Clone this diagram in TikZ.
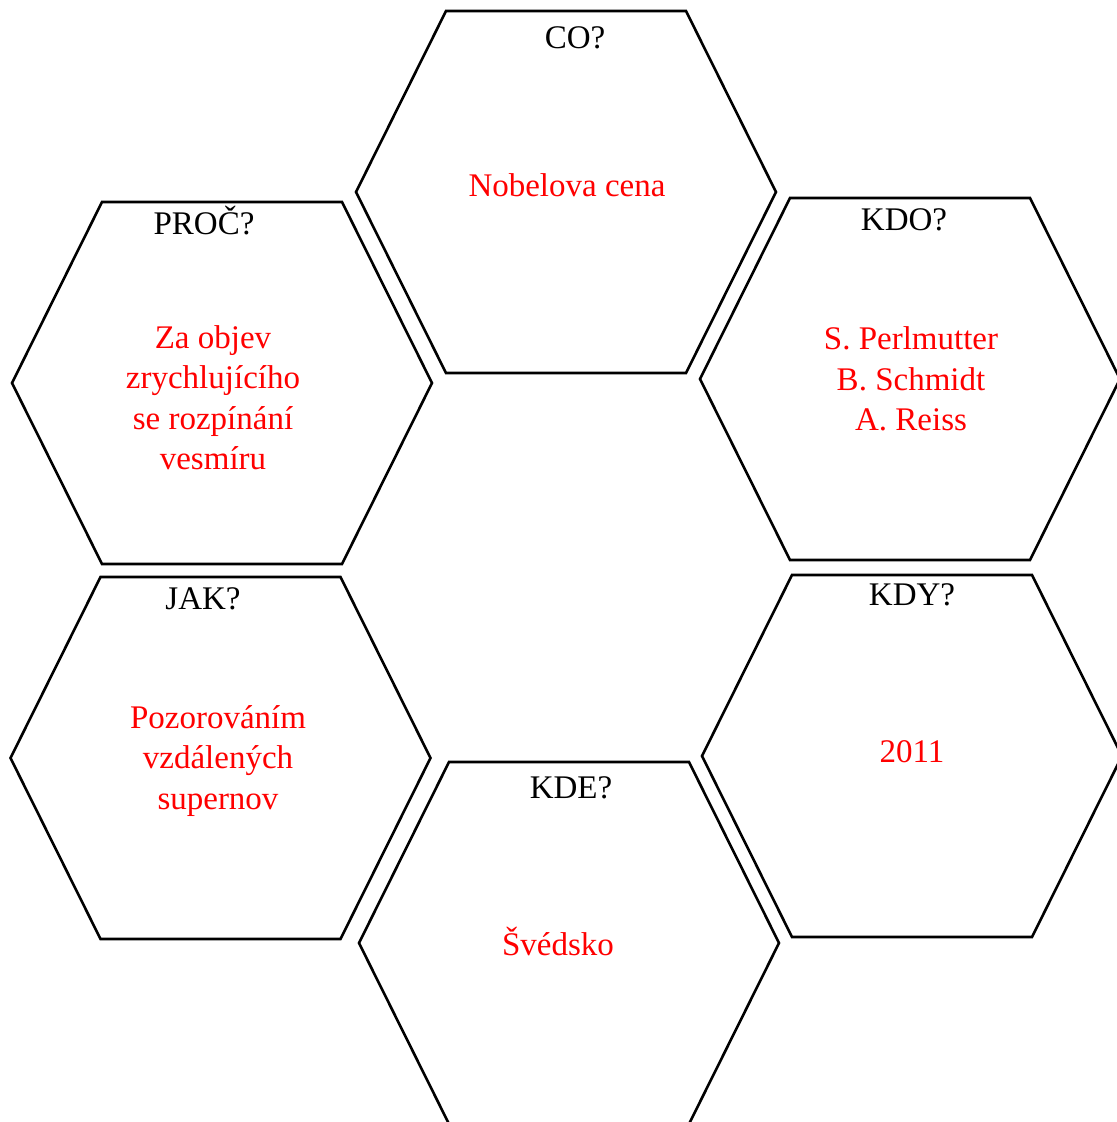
\documentclass[tikz,border=0pt]{standalone}
\usepackage{fontspec}
\setmainfont{Liberation Serif}
\begin{document}
\begin{tikzpicture}[x=1bp,y=-1bp,
  hexagon/.style={draw=black,line width=2.6bp,line join=miter},
  qlabel/.style={anchor=base,inner sep=0pt,text=black,font=\fontsize{33bp}{40bp}\selectfont},
  answer/.style={anchor=base,inner sep=0pt,text=red,font=\fontsize{33bp}{40bp}\selectfont}]
\useasboundingbox (0,0) rectangle (1117,1122);
\clip (0,0) rectangle (1117,1122);
\fill[white] (0,0) rectangle (1117,1122);
\newcommand\hexpath{(-210,0) -- (-120,-181) -- (120,-181) -- (210,0) -- (120,181) -- (-120,181) -- cycle}
% hexagons
\draw[hexagon,shift={(566,192)}] \hexpath;
\draw[hexagon,shift={(222,383)}] \hexpath;
\draw[hexagon,shift={(910,379)}] \hexpath;
\draw[hexagon,shift={(220.5,758)}] \hexpath;
\draw[hexagon,shift={(912,756)}] \hexpath;
\draw[hexagon,shift={(569,943)}] \hexpath;
% question labels
\node[qlabel] (qco) at (575,48) {CO?};
\node[qlabel] (qproc) at (204,234) {PROČ?};
\node[qlabel] (qkdo) at (904,230) {KDO?};
\node[qlabel] (qjak) at (203,609) {JAK?};
\node[qlabel] (qkdy) at (912,605) {KDY?};
\node[qlabel] (qkde) at (571,798) {KDE?};
% answers
\node[answer] (aco) at (567,196) {Nobelova cena};
\node[answer] (aproc1) at (213,348) {Za objev};
\node[answer] (aproc2) at (213,388) {zrychlujícího};
\node[answer] (aproc3) at (213,429) {se rozpínání};
\node[answer] (aproc4) at (213,469) {vesmíru};
\node[answer] (akdo1) at (911,349) {S. Perlmutter};
\node[answer] (akdo2) at (911,390) {B. Schmidt};
\node[answer] (akdo3) at (911,430) {A. Reiss};
\node[answer] (ajak1) at (218,728) {Pozorováním};
\node[answer] (ajak2) at (218,768) {vzdálených};
\node[answer] (ajak3) at (218,809) {supernov};
\node[answer] (akdy) at (912,762) {2011};
\node[answer] (akde) at (558,955) {Švédsko};
\end{tikzpicture}
\end{document}
